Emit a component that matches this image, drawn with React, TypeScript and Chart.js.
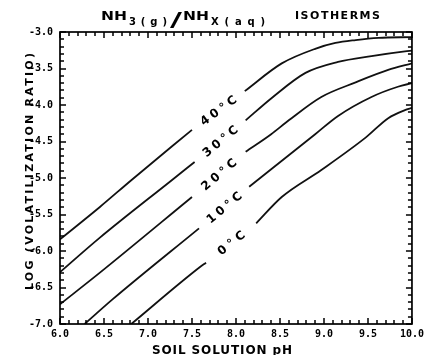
import React, { useEffect, useRef } from "react";
import { Chart, registerables } from "chart.js";

Chart.register(...registerables);

// ---- data ----
const pH40 = [6.0, 6.45, 6.81, 7.5, 7.8, 8.1, 8.52, 8.9, 9.13, 9.36, 9.62, 10.0];
const log40 = [-5.84, -5.4, -5.03, -4.34, null, -3.81, -3.43, -3.23, -3.15, -3.11, -3.08, -3.07];

const pH30 = [6.0, 6.45, 7.27, 7.53, 7.82, 8.11, 8.41, 8.79, 9.16, 9.54, 9.92, 10.0];
const log30 = [-6.29, -5.82, -5.03, -4.78, null, -4.21, -3.9, -3.56, -3.41, -3.33, -3.265, -3.255];

const pH20 = [6.0, 6.45, 7.5, 7.81, 8.11, 8.4, 8.6, 8.97, 9.36, 9.73, 10.0];
const log20 = [-6.73, -6.3, -5.26, null, -4.64, -4.4, -4.21, -3.89, -3.69, -3.52, -3.43];

const pH10 = [6.28, 6.6, 7.58, 7.86, 8.15, 8.9, 9.16, 9.54, 9.84, 10.0];
const log10 = [-7.0, -6.66, -5.69, null, -5.12, -4.4, -4.15, -3.89, -3.75, -3.7];

const pH0 = [6.81, 7.58, 7.66, 7.94, 8.23, 8.52, 8.97, 9.48, 9.73, 9.92, 10.0];
const log0 = [-7.0, -6.23, -6.16, null, -5.62, -5.26, -4.89, -4.44, -4.18, -4.07, -4.04];

const seriesNames = ["40°C", "30°C", "20°C", "10°C", "0°C"];
const seriesPH = [pH40, pH30, pH20, pH10, pH0];
const seriesLog = [log40, log30, log20, log10, log0];

const xTickValues = [6.0, 6.5, 7.0, 7.5, 8.0, 8.5, 9.0, 9.5, 10.0];
const xTickLabels = ["6.0", "6.5", "7.0", "7.5", "8.0", "8.5", "9.0", "9.5", "10.0"];
const yTickValues = [-7.0, -6.5, -6.0, -5.5, -5.0, -4.5, -4.0, -3.5, -3.0];
const yTickLabels = ["-7.0", "-6.5", "-6.0", "-5.5", "-5.0", "-4.5", "-4.0", "-3.5", "-3.0"];

const xTitle = "SOIL SOLUTION pH";
const yTitle = "LOG (VOLATILIZATION RATIO)";
const titleParts = ["NH", "3(g)", "/", "NH", "X(aq)", "ISOTHERMS"];

// ---- text helpers ----
function drawSpaced(ctx: any, text: string, x: number, y: number, font: string, width: number, angle = 0, center = false) {
  ctx.save();
  ctx.translate(x, y);
  if (angle) ctx.rotate(angle);
  ctx.font = font;
  ctx.textAlign = "left";
  ctx.textBaseline = "alphabetic";
  ctx.fillStyle = "#000";
  const hasLS = "letterSpacing" in ctx;
  if (hasLS) ctx.letterSpacing = "0px";
  const w = ctx.measureText(text).width;
  const n = Array.from(text).length;
  if (hasLS && n > 1) {
    const sp = (width - w) / (n - 1);
    ctx.letterSpacing = sp + "px";
    ctx.fillText(text, center ? -width / 2 : 0, 0);
  } else {
    const sx = width / w;
    if (center) ctx.translate(-width / 2, 0);
    ctx.scale(sx, 1);
    ctx.fillText(text, 0, 0);
  }
  ctx.restore();
}

function drawScaled(ctx: any, text: string, x: number, y: number, font: string, width: number) {
  ctx.save();
  ctx.font = font;
  ctx.fillStyle = "#000";
  ctx.textAlign = "left";
  ctx.textBaseline = "alphabetic";
  if ("letterSpacing" in ctx) ctx.letterSpacing = "0px";
  const w = ctx.measureText(text).width;
  ctx.translate(x, y);
  ctx.scale(width / w, 1);
  ctx.fillText(text, 0, 0);
  ctx.restore();
}

const decor = {
  id: "decor",
  afterDraw(chart: any) {
    const { ctx, chartArea: a, scales } = chart;
    const xs = scales.x;
    const ys = scales.y;
    ctx.save();
    ctx.setLineDash([]);
    ctx.strokeStyle = "#000";
    ctx.fillStyle = "#000";
    ctx.lineWidth = 1.7;
    ctx.strokeRect(a.left, a.top, a.right - a.left, a.bottom - a.top);

    // inward tick marks, every 0.1 (filled rectangles)
    for (let i = 0; i <= 40; i++) {
      const px = Math.round(xs.getPixelForValue(6 + i * 0.1));
      const L = i % 5 === 0 ? 6 : 4;
      ctx.fillRect(px - 0.75, a.bottom - L, 1.5, L);
      ctx.fillRect(px - 0.75, a.top, 1.5, L);
    }
    for (let i = 0; i <= 40; i++) {
      const py = Math.round(ys.getPixelForValue(-7 + i * 0.1));
      const L = i % 5 === 0 ? 6 : 4;
      ctx.fillRect(a.left, py - 0.75, L, 1.5);
      ctx.fillRect(a.right - L, py - 0.75, L, 1.5);
    }

    // curve labels in the gaps of each line
    chart.data.datasets.forEach((ds: any, k: number) => {
      const d = ds.data;
      const gi = d.findIndex((p: any) => p.y === null);
      if (gi < 1) return;
      const p1 = { x: xs.getPixelForValue(d[gi - 1].x), y: ys.getPixelForValue(d[gi - 1].y) };
      const p2 = { x: xs.getPixelForValue(d[gi + 1].x), y: ys.getPixelForValue(d[gi + 1].y) };
      const ang = Math.atan2(p2.y - p1.y, p2.x - p1.x);
      const mx = (p1.x + p2.x) / 2;
      const my = (p1.y + p2.y) / 2;
      const name = seriesNames[k];
      const w = Array.from(name).length * 10.5;
      ctx.save();
      ctx.translate(mx, my);
      ctx.rotate(ang);
      drawSpaced(ctx, name, 0, 4, "bold 12px 'DejaVu Sans'", w, 0, true);
      ctx.restore();
    });

    // title
    drawScaled(ctx, titleParts[0], 101, 20, "bold 12px 'DejaVu Sans'", 26);
    drawSpaced(ctx, titleParts[1], 129, 25, "bold 10px 'DejaVu Sans'", 38);
    drawScaled(ctx, titleParts[2], 170, 26, "bold 19px 'DejaVu Sans'", 12);
    drawScaled(ctx, titleParts[3], 183, 20, "bold 12px 'DejaVu Sans'", 26);
    drawSpaced(ctx, titleParts[4], 211, 25, "bold 10px 'DejaVu Sans'", 54);
    drawSpaced(ctx, titleParts[5], 295, 19, "bold 11px 'DejaVu Sans'", 85);

    // axis titles
    drawSpaced(ctx, xTitle, 152, 354, "bold 12px 'DejaVu Sans'", 140);
    drawSpaced(ctx, yTitle, 33, 290, "bold 11px 'DejaVu Sans'", 237, -Math.PI / 2);
    ctx.restore();
  },
};

export default function App() {
  const ref = useRef<HTMLCanvasElement | null>(null);
  useEffect(() => {
    if (!ref.current) return;
    const tickFont = { family: "'DejaVu Sans Mono'", weight: "bold" as const, size: 10 };
    const chart = new Chart(ref.current, {
      type: "line",
      data: {
        datasets: seriesNames.map((name, k) => ({
          label: name,
          data: seriesPH[k].map((x, i) => ({ x, y: seriesLog[k][i] })) as any,
          borderColor: "#111",
          borderWidth: 1.8,
          pointRadius: 0,
          fill: false,
          spanGaps: false,
          cubicInterpolationMode: "monotone" as const,
        })),
      },
      options: {
        responsive: false,
        animation: false,
        devicePixelRatio: 1,
        layout: { padding: { left: 0, top: 32, right: 13, bottom: 0 } },
        plugins: { legend: { display: false }, tooltip: { enabled: false }, title: { display: false } },
        scales: {
          x: {
            type: "linear",
            min: 6,
            max: 10,
            afterBuildTicks: (s: any) => {
              s.ticks = xTickValues.map((v) => ({ value: v }));
            },
            ticks: {
              callback: (_v: any, i: number) => xTickLabels[i],
              color: "#000",
              font: tickFont,
              padding: 4,
              maxRotation: 0,
              autoSkip: false,
            },
            grid: { display: false, drawTicks: false },
            border: { display: false },
            afterFit: (s: any) => {
              s.height = 31;
            },
          },
          y: {
            type: "linear",
            min: -7,
            max: -3,
            afterBuildTicks: (s: any) => {
              s.ticks = yTickValues.map((v) => ({ value: v }));
            },
            ticks: {
              callback: (_v: any, i: number) => yTickLabels[i],
              color: "#000",
              font: tickFont,
              padding: 7,
              autoSkip: false,
            },
            grid: { display: false, drawTicks: false },
            border: { display: false },
            afterFit: (s: any) => {
              s.width = 60;
            },
          },
        },
      },
      plugins: [decor],
    });
    return () => chart.destroy();
  }, []);
  return (
    <div style={{ position: "absolute", left: 0, top: 0, width: 428, height: 355, background: "#fff" }}>
      <canvas ref={ref} width={428} height={355} style={{ display: "block" }} />
    </div>
  );
}
